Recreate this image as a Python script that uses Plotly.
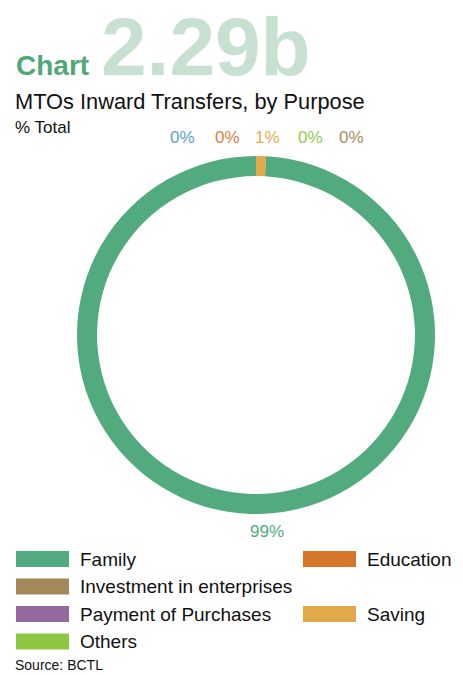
import plotly.graph_objects as go

W, H = 463, 675

# Slice data (percent of total), clockwise from 12 o'clock
purposes = ["Payment of Purchases", "Education", "Saving", "Others",
            "Investment in enterprises", "Family"]
shares = [0.0, 0.0, 0.9, 0.0, 0.0, 99.1]
slice_colors = ["#936ba0", "#d7762b", "#e2a94a", "#8dc63f", "#a5885a", "#52ab7e"]

# Small-share labels shown above the ring
top_label_purposes = ["Payment of Purchases", "Education", "Saving", "Others",
                      "Investment in enterprises"]
top_label_colors = ["#5b9fd1", "#de8040", "#e6ac4f", "#8fcb4a", "#a88c62"]

# Legend layout (column, row)
legend_items = [("Family", 0, 0), ("Education", 1, 0),
                ("Investment in enterprises", 0, 1),
                ("Payment of Purchases", 0, 2), ("Saving", 1, 2),
                ("Others", 0, 3)]

FONT = "Liberation Sans"


def px(x):
    return x / W


def py(y):
    return 1 - y / H


share_of = dict(zip(purposes, shares))
color_of = dict(zip(purposes, slice_colors))

fig = go.Figure()
fig.add_trace(go.Pie(
    labels=purposes, values=shares, hole=0.888, sort=False,
    direction="clockwise", rotation=0, textinfo="none",
    marker=dict(colors=slice_colors, line=dict(width=0)),
    domain=dict(x=[px(77), px(435)], y=[py(515), py(155)]),
    showlegend=False, hoverinfo="label+percent",
))

ann = []
ann.append(dict(text="<b>2.29b</b>", x=px(99), y=py(46), xanchor="left", yanchor="middle",
                font=dict(family=FONT, size=82, color="#c8e0d0")))
ann.append(dict(text="<b>Chart</b>", x=px(14), y=py(66), xanchor="left", yanchor="middle",
                font=dict(family=FONT, size=28, color="#4fa87a")))
ann.append(dict(text="MTOs Inward Transfers, by Purpose", x=px(13), y=py(101),
                xanchor="left", yanchor="middle",
                font=dict(family=FONT, size=21.8, color="#111111")))
ann.append(dict(text="% Total", x=px(13), y=py(128), xanchor="left", yanchor="middle",
                font=dict(family=FONT, size=17, color="#111111")))

top_x = [182, 227, 267, 310, 351]
for name, c, xx in zip(top_label_purposes, top_label_colors, top_x):
    ann.append(dict(text=f"{round(share_of[name])}%", x=px(xx), y=py(137),
                    xanchor="center", yanchor="middle",
                    font=dict(family=FONT, size=17, color=c)))

ann.append(dict(text=f"{round(share_of['Family'])}%", x=px(267), y=py(531),
                xanchor="center", yanchor="middle",
                font=dict(family=FONT, size=17, color="#52ab7e")))

shapes = []
col_x = [16, 303]
row_y0 = 551
row_step = 27.5
for name, col, row in legend_items:
    x0 = col_x[col]
    y0 = row_y0 + row * row_step
    shapes.append(dict(type="rect", xref="paper", yref="paper",
                       x0=px(x0), x1=px(x0 + 53), y0=py(y0 + 16), y1=py(y0),
                       fillcolor=color_of[name], line=dict(width=0)))
    ann.append(dict(text=name, x=px(x0 + 62), y=py(y0 + 8), xanchor="left",
                    yanchor="middle", font=dict(family=FONT, size=19, color="#111111")))

ann.append(dict(text="Source: BCTL", x=px(13), y=py(665), xanchor="left", yanchor="middle",
                font=dict(family=FONT, size=14, color="#111111")))

for a in ann:
    a.update(xref="paper", yref="paper", showarrow=False)

fig.update_layout(
    width=W, height=H, margin=dict(l=0, r=0, t=0, b=0),
    paper_bgcolor="white", plot_bgcolor="white",
    annotations=ann, shapes=shapes, showlegend=False,
)

fig.write_html("out.html")
